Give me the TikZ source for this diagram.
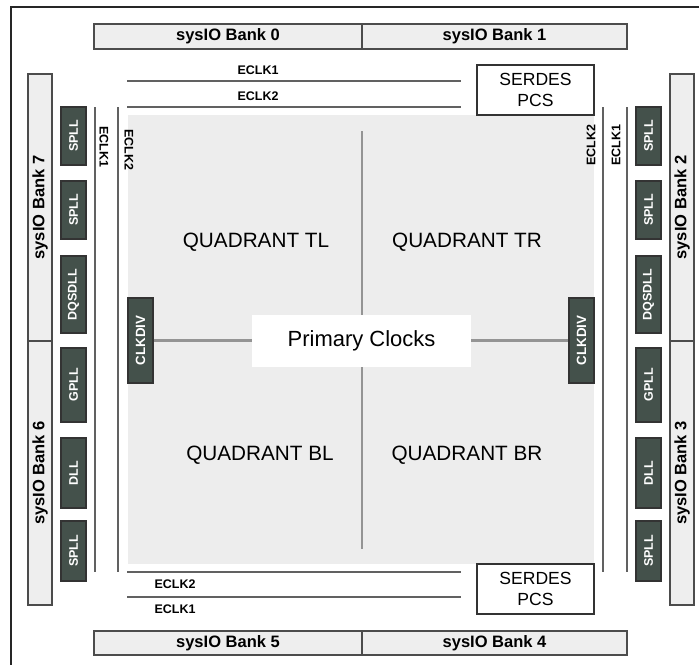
\documentclass[tikz,border=0pt]{standalone}
\usepackage{fontspec}
\setmainfont{Liberation Sans}
\usepackage{tikz}
\usetikzlibrary{positioning, calc}
\definecolor{bankfill}{HTML}{EEEEEE}
\definecolor{blockfill}{HTML}{44514B}
\definecolor{quadfill}{HTML}{EDEDED}
\tikzset{
    bankbox/.style={rectangle, fill=bankfill, draw=black!70, line width=0.8pt, inner sep=0pt, font=\fontsize{9.4}{11}\selectfont\bfseries},
    pllbox/.style={rectangle, fill=blockfill, draw=black!80, line width=0.8pt, inner sep=0pt, text=white, minimum height=0.5cm, font=\fontsize{7.1}{8}\selectfont\bfseries},
    serdesbox/.style={rectangle, fill=white, draw=black!80, line width=0.6pt, inner sep=0pt, minimum width=2.34cm, minimum height=1cm, align=center, font=\fontsize{10}{11.5}\selectfont},
    eclkline/.style={draw=black!62, line width=1.4pt},
    eclklabel/.style={inner sep=0pt, font=\fontsize{7.1}{8}\selectfont\bfseries},
    divline/.style={draw=black!42, line width=1.3pt},
    quadlabel/.style={inner sep=0pt, font=\fontsize{11.8}{13}\selectfont}
}

\begin{document}
\begin{tikzpicture}[x=0.02cm, y=-0.02cm]
    \useasboundingbox (0,0) rectangle (699,664);
    \draw[line width=1.2pt, draw=black!85] (720,7) -- (11,7) -- (11,690);

    % Quadrant area
    \fill[quadfill] (128,115) rectangle (594,564);

    % Banks
    \node[bankbox, minimum width=5.36cm, minimum height=0.5cm] (b0) at (228,36.5) {sysIO Bank 0};
    \node[bankbox, minimum width=5.3cm, minimum height=0.5cm] (b1) at (494.5,36.5) {sysIO Bank 1};
    \node[bankbox, minimum width=5.36cm, minimum height=0.48cm] (b5) at (228,643) {sysIO Bank 5};
    \node[bankbox, minimum width=5.3cm, minimum height=0.48cm] (b4) at (494.5,643) {sysIO Bank 4};
    \node[bankbox, rotate=90, minimum width=5.34cm, minimum height=0.48cm] (b7) at (40,207.5) {sysIO Bank 7};
    \node[bankbox, rotate=90, minimum width=5.28cm, minimum height=0.48cm] (b6) at (40,473) {sysIO Bank 6};
    \node[bankbox, rotate=90, minimum width=5.34cm, minimum height=0.48cm] (b2) at (682,207.5) {sysIO Bank 2};
    \node[bankbox, rotate=90, minimum width=5.28cm, minimum height=0.48cm] (b3) at (682,473) {sysIO Bank 3};

    % PLL / DLL blocks
    \foreach \side/\x in {l/73.5, r/648.5} {
        \node[pllbox, rotate=90, minimum width=1.16cm] (spllA\side) at (\x,136) {SPLL};
        \node[pllbox, rotate=90, minimum width=1.16cm] (spllB\side) at (\x,210) {SPLL};
        \node[pllbox, rotate=90, minimum width=1.54cm] (dqsdll\side) at (\x,294.5) {DQSDLL};
        \node[pllbox, rotate=90, minimum width=1.48cm] (gpll\side) at (\x,385) {GPLL};
        \node[pllbox, rotate=90, minimum width=1.4cm] (dll\side) at (\x,473) {DLL};
        \node[pllbox, rotate=90, minimum width=1.2cm] (spllC\side) at (\x,551) {SPLL};
    }

    % SERDES
    \node[serdesbox] (serdesT) at (535.5,90) {SERDES\\PCS};
    \node[serdesbox] (serdesB) at (535.5,589) {SERDES\\PCS};

    % Edge clocks
    \coordinate (tA) at (127,81);  \coordinate (tAe) at (461,81);
    \coordinate (tB) at (127,107); \coordinate (tBe) at (461,107);
    \coordinate (bB) at (127,572); \coordinate (bBe) at (461,572);
    \coordinate (bA) at (127,597); \coordinate (bAe) at (461,597);
    \coordinate (lA) at (95,107);  \coordinate (lAe) at (95,572);
    \coordinate (lB) at (118,107); \coordinate (lBe) at (118,572);
    \coordinate (rB) at (603,107); \coordinate (rBe) at (603,572);
    \coordinate (rA) at (627,107); \coordinate (rAe) at (627,572);
    \foreach \a in {tA, tB, bB, bA, lA, lB, rB, rA}
        \draw[eclkline] (\a) -- (\a e);
    \node[eclklabel] (tAl) at (258,70) {ECLK1};
    \node[eclklabel] (tBl) at (258,96) {ECLK2};
    \node[eclklabel] (bBl) at (175,584) {ECLK2};
    \node[eclklabel] (bAl) at (175,609) {ECLK1};
    \node[eclklabel, rotate=-90] (lAl) at (104,147) {ECLK1};
    \node[eclklabel, rotate=-90] (lBl) at (129,150) {ECLK2};
    \node[eclklabel, rotate=90] (rBl) at (591,145) {ECLK2};
    \node[eclklabel, rotate=90] (rAl) at (616,145) {ECLK1};

    % Primary clocks
    \node[pllbox, rotate=90, minimum width=1.7cm, font=\fontsize{7.6}{8}\selectfont\bfseries] (divL) at (140.5,340.5) {CLKDIV};
    \node[pllbox, rotate=90, minimum width=1.7cm, font=\fontsize{7.6}{8}\selectfont\bfseries] (divR) at (581.5,340.5) {CLKDIV};
    \coordinate (vTop) at (362,131);
    \coordinate (vBot) at (362,549);
    \draw[divline] (divL) -- (divR);
    \draw[divline] (vTop) -- (vBot);
    \node[fill=white, minimum width=4.38cm, minimum height=1.04cm, inner sep=0pt, font=\fontsize{12.5}{14}\selectfont] (prim) at (361.5,341) {Primary Clocks};

    % Quadrants
    \node[quadlabel] (qTL) at (256,242) {QUADRANT TL};
    \node[quadlabel] (qTR) at (467,242) {QUADRANT TR};
    \node[quadlabel] (qBL) at (260,455) {QUADRANT BL};
    \node[quadlabel] (qBR) at (467,455) {QUADRANT BR};
\end{tikzpicture}
\end{document}
